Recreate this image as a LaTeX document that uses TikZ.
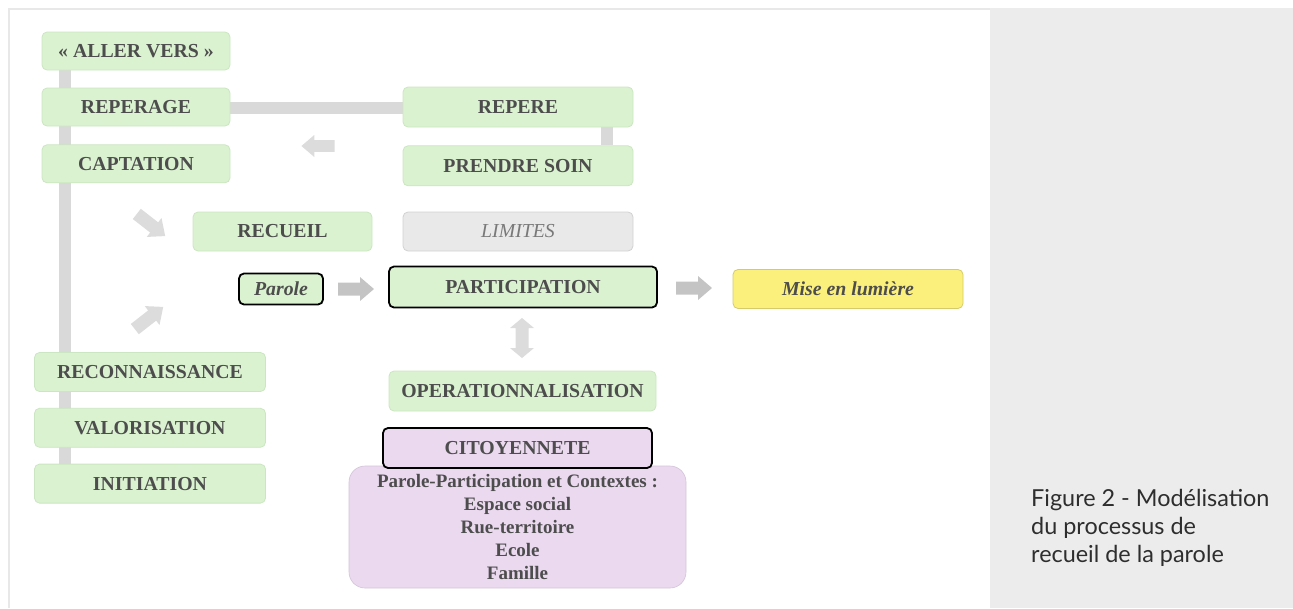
\documentclass[tikz,border=0pt]{standalone}
\usepackage{fontspec}
\setmainfont{Liberation Serif}
\newfontfamily\capfont{Lato}
\usetikzlibrary{positioning,backgrounds}
\definecolor{boxgreen}{HTML}{DAF2D0}
\definecolor{boxedge}{HTML}{CBE6C2}
\definecolor{boxpurple}{HTML}{EBD9F0}
\definecolor{boxyellow}{HTML}{FBF07C}
\definecolor{limgrey}{HTML}{E9E9E9}
\definecolor{barcol}{HTML}{D9D9D9}
\definecolor{arrowgrey}{HTML}{C4C4C4}
\definecolor{arrowlight}{HTML}{DCDCDC}
\definecolor{txt}{HTML}{4D4D4D}
\definecolor{paneltone}{HTML}{ECECEC}
\definecolor{framecol}{HTML}{E8E8E8}
\newcommand\labelfont{\fontsize{19.8}{22}\selectfont\bfseries}
\tikzset{
box/.style={draw=boxedge,fill=boxgreen,rounded corners=5pt,line width=0.8pt,
minimum height=38pt,inner sep=0pt,font=\labelfont,text=txt},
keybox/.style={box,draw=black,line width=1.8pt},
limitbox/.style={box,draw=limgrey!90!black,fill=limgrey,font=\fontsize{19.8}{22}\selectfont\itshape,text=txt!75},
lightbox/.style={box,draw=boxyellow!85!black,fill=boxyellow,font=\labelfont\itshape},
ctxbox/.style={draw=boxpurple!90!black,fill=boxpurple,rounded corners=16pt,line width=0.6pt,
minimum width=337pt,minimum height=122pt,inner sep=0pt,align=center,
font=\fontsize{19}{23}\selectfont\bfseries,text=txt},
greybar/.style={draw=barcol,line width=12pt},
captext/.style={font=\capfont\fontsize{23.4}{28}\selectfont,text=black!82,align=left,inner sep=0pt},
blockarrow/.pic={\path[pic actions] (-18,-6.5) -- (4,-6.5) -- (4,-12) -- (18,0) -- (4,12) -- (4,6.5) -- (-18,6.5) -- cycle;},
updown/.pic={\path[pic actions] (-6.5,-10) -- (-12,-10) -- (0,-20) -- (12,-10) -- (6.5,-10) -- (6.5,10) -- (12,10) -- (0,20) -- (-12,10) -- (-6.5,10) -- cycle;}
}
\begin{document}
\begin{tikzpicture}[x=1pt,y=-1pt]
\useasboundingbox (0,0) rectangle (1293,608);
% frame and caption panel
\fill[paneltone] (990,8) rectangle (1293,608);
\draw[framecol,line width=2.5pt] (9,608) -- (9,9) -- (990,9);
\node[captext,anchor=west] (cap) at (1031,528) {Figure 2 - Modélisation\\du processus de\\recueil de la parole};

% left column
\node[box,minimum width=188pt] (aller) at (136,51) {« ALLER VERS »};
\node[box,minimum width=188pt] (reperage) at (136,107) {REPERAGE};
\node[box,minimum width=188pt,below=18pt of reperage] (captation) {CAPTATION};
\node[box,minimum width=231pt,minimum height=39pt] (reconn) at (150,372) {RECONNAISSANCE};
\node[box,minimum width=231pt,minimum height=39pt,below=16pt of reconn] (valor) {VALORISATION};
\node[box,minimum width=231pt,minimum height=39pt,below=16pt of valor] (init) {INITIATION};

% right column
\node[box,minimum width=230pt,minimum height=40pt] (repere) at (518,107) {REPERE};
\node[box,minimum width=230pt,minimum height=40pt,below=18pt of repere] (soin) {PRENDRE SOIN};
\node[limitbox,minimum width=230pt,minimum height=39pt] (limites) at (518,231.5) {LIMITES};
\node[box,minimum width=179pt,minimum height=39pt] (recueil) at (282.5,231.5) {RECUEIL};

% middle row
\node[keybox,minimum width=84pt,minimum height=31pt] (parole) at (281,289) {\itshape Parole};
\node[keybox,minimum width=268pt,minimum height=41pt] (particip) at (523,287) {PARTICIPATION};
\node[lightbox,minimum width=230pt,minimum height=39pt] (mise) at (848,289) {Mise en lumière};
\node[box,minimum width=267pt,minimum height=40pt] (operat) at (522.5,391) {OPERATIONNALISATION};
\node[ctxbox] (ctx) at (517.5,527) {Parole-Participation et Contextes :\\Espace social\\Rue-territoire\\Ecole\\Famille};
\node[keybox,fill=boxpurple,minimum width=269pt,minimum height=40pt] (citoy) at (517.5,448) {CITOYENNETE};

% grey links behind the boxes
\begin{scope}[on background layer]
\draw[greybar] ([xshift=23pt]aller.south west) -- ([xshift=23pt]aller.south west |- init.north);
\draw[greybar] ([yshift=-1pt]reperage.east) -- ([yshift=-1pt]reperage.east -| repere.west);
\draw[greybar] ([xshift=-26pt]repere.south east) -- ([xshift=-26pt]soin.north east);
\end{scope}

% block arrows
\pic[fill=arrowlight,rotate=180,scale=0.92] at (318,146) {blockarrow};
\pic[fill=arrowlight,rotate=-38] at (151,225) {blockarrow};
\pic[fill=arrowlight,rotate=38] at (149,318) {blockarrow};
\pic[fill=arrowgrey] at (356,289) {blockarrow};
\pic[fill=arrowgrey] at (694,288) {blockarrow};
\pic[fill=arrowlight] at (522,338) {updown};
\end{tikzpicture}
\end{document}
